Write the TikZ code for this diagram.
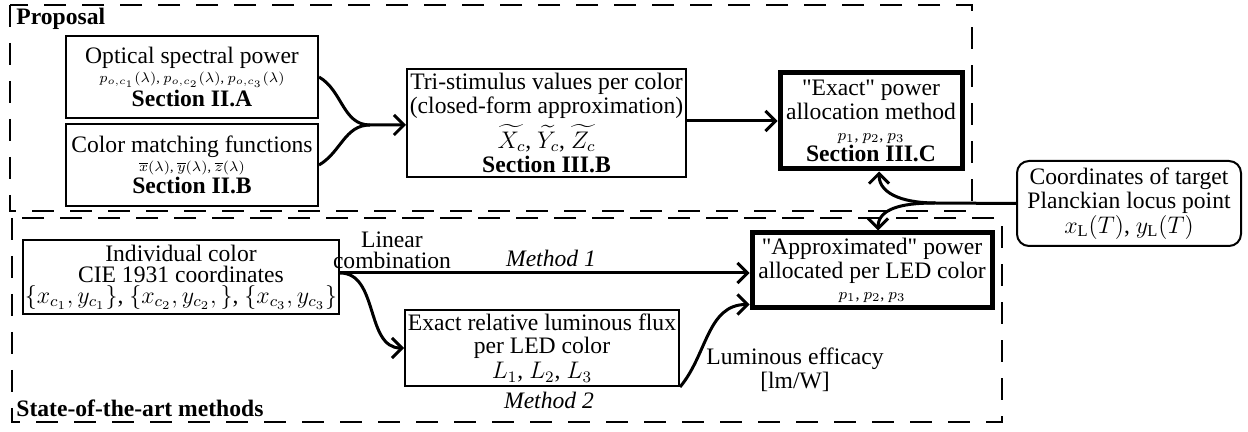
\documentclass[tikz,border=0pt]{standalone}
\usepackage{fontspec}
\setmainfont{Liberation Serif}
\usepackage{amsmath}
\usetikzlibrary{arrows.meta, calc, positioning}

\newcommand{\boxfont}{\fontsize{11.8}{10.5}\selectfont}
\newcommand{\tightfont}{\fontsize{11.8}{9.5}\selectfont}
\newcommand{\qq}{\textquotedbl}
\tikzset{
  box/.style={draw, line width=1pt, align=center, inner sep=1pt, font=\boxfont},
  bigbox/.style={box, line width=2.5pt},
  roundbox/.style={box, rounded corners=6pt},
  arr/.style={line width=1.5pt, -{Straight Barb[length=5pt,width=10pt]}},
  frame/.style={line width=1.2pt, dash pattern=on 11pt off 8pt},
  lbl/.style={font=\boxfont, align=center, inner sep=0pt},
}

\begin{document}
\begin{tikzpicture}[x=0.5pt,y=0.5pt]
\useasboundingbox (0,0) rectangle (1248,-432);

% Dashed frames
\draw[frame] (10,-5) rectangle (972,-211);
\draw[frame] (12,-218) rectangle (1002,-422);
\node[lbl, font=\boxfont\bfseries, anchor=base west] (proplab) at (16,-25) {Proposal};
\node[lbl, font=\boxfont\bfseries, anchor=base west] (sotalab) at (16,-417) {State-of-the-art methods};

% Proposal
\node[box, font=\tightfont, minimum width=126pt, minimum height=41pt] (opt) at (192,-77)
  {Optical spectral power\\ {\scriptsize$p_{o,c_1}(\lambda)$, $p_{o,c_2}(\lambda)$, $p_{o,c_3}(\lambda)$}\\ \textbf{Section II.A}};
\node[box, font=\tightfont, minimum width=126pt, minimum height=41pt] (cmf) at (192,-165)
  {Color matching functions\\ {\scriptsize$\overline{x}(\lambda)$, $\overline{y}(\lambda)$, $\overline{z}(\lambda)$}\\ \textbf{Section II.B}};
\node[box, minimum width=139.5pt, minimum height=54pt] (tri) at (546.5,-123)
  {Tri-stimulus values per color\\ (closed-form approximation)\\[2pt] $\widetilde{X_c}$, $\widetilde{Y_c}$, $\widetilde{Z_c}$\\[1.5pt] \textbf{Section III.B}};
\node[bigbox, minimum width=91pt, minimum height=48pt] (exact) at (871,-121)
  {\qq Exact\qq{} power\\ allocation method\\ {\footnotesize$p_1$, $p_2$, $p_3$}\\ \textbf{Section III.C}};

% Target point
\node[roundbox, minimum width=112pt, minimum height=42.5pt] (coord) at (1129,-203.5)
  {Coordinates of target\\ Planckian locus point\\ $x_{\mathrm{L}}(T)$, $y_{\mathrm{L}}(T)$};

% State of the art
\node[box, minimum width=149pt, minimum height=37pt] (indiv) at (181,-277)
  {Individual color\\ CIE 1931 coordinates\\ $\{x_{c_1}, y_{c_1}\}$, $\{x_{c_2}, y_{c_2},\}$, $\{x_{c_3}, y_{c_3}\}$};
\node[box, minimum width=137pt, minimum height=38pt] (flux) at (542,-348)
  {Exact relative luminous flux\\[1pt] per LED color\\[1pt] $L_1$, $L_2$, $L_3$};
\node[bigbox, minimum width=120pt, minimum height=37.5pt] (approx) at (872,-270.5)
  {\qq Approximated\qq{} power\\ allocated per LED color\\ {\footnotesize$p_1$, $p_2$, $p_3$}};

% Labels
\node[lbl] (lincomb) at (392,-250) {Linear\\ combination};
\node[lbl, font=\boxfont\itshape] (meth1) at (551,-258) {Method 1};
\node[lbl, font=\boxfont\itshape] (meth2) at (549,-400) {Method 2};
\node[lbl] (efficacy) at (795,-370) {Luminous efficacy\\ {[lm/W]}};

% Connectors
\coordinate (merge) at (370,-125);
\coordinate (split) at (935,-203);
\draw[arr] (opt.east) to[out=-30,in=180] (merge) -- (tri.west |- merge);
\draw[line width=1.5pt] (cmf.east) to[out=30,in=180] (merge);
\draw[arr] (tri.east |- exact.west) -- (exact.west);
\draw[line width=1.5pt] (coord.west) -- (split);
\draw[arr] (split) to[out=180,in=-90] ([xshift=4pt]exact.south);
\draw[arr] (split) to[out=180,in=90] ([xshift=3pt]approx.north);
\draw[arr] ([yshift=2pt]indiv.east) -- ([yshift=2pt]indiv.east -| approx.west);
\draw[arr] ([yshift=2pt]indiv.east) to[out=0,in=180] (flux.west);
\draw[arr] (flux.south east) to[out=50,in=180] ([yshift=3pt]approx.south west);
\end{tikzpicture}
\end{document}
